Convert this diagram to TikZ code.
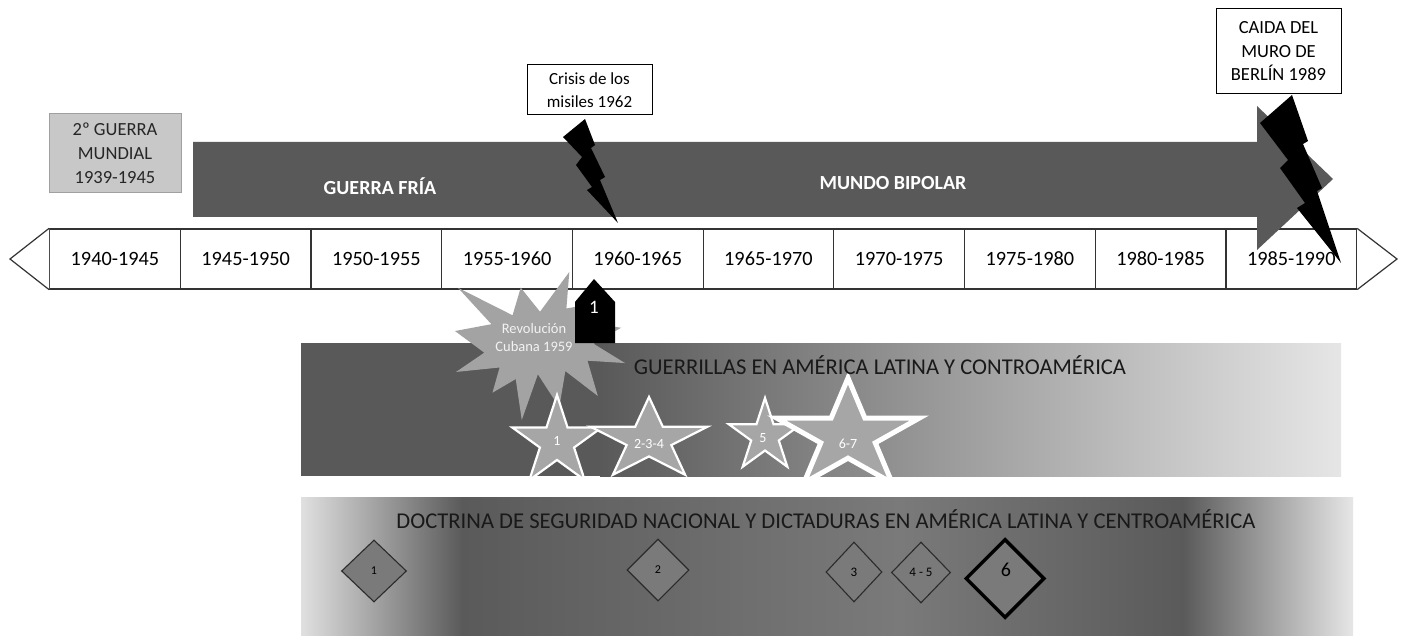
\documentclass[tikz,border=0pt]{standalone}
\usepackage{fontspec}
\setmainfont{Carlito}
\usetikzlibrary{shapes.geometric}
\definecolor{darkband}{HTML}{595959}
\definecolor{tlline}{HTML}{333333}
\definecolor{wwfill}{HTML}{C8C8C8}
\definecolor{wwline}{HTML}{A0A0A0}
\definecolor{burstfill}{HTML}{A3A3A3}
\definecolor{starfill}{HTML}{A6A6A6}
\definecolor{diafill}{HTML}{7A7A7A}
\definecolor{diadraw}{HTML}{2B2B2B}
\definecolor{lightend}{HTML}{E6E6E6}
\definecolor{lightstart}{HTML}{E0E0E0}
\definecolor{midgray}{HTML}{7A7A7A}
\definecolor{darkgray2}{HTML}{5A5A5A}
\newcommand\fstar[5]{%
  \pgfmathsetmacro\irx{0.382*#3}%
  \pgfmathsetmacro\iry{0.382*#4}%
  \draw[starshape, line width=#5, shift={(#1,#2)}]
   (270:#3 and #4) -- (306:\irx\space and \iry) -- (342:#3 and #4) -- (18:\irx\space and \iry)
   -- (54:#3 and #4) -- (90:\irx\space and \iry) -- (126:#3 and #4) -- (162:\irx\space and \iry)
   -- (198:#3 and #4) -- (234:\irx\space and \iry) -- cycle;}
\begin{document}
\begin{tikzpicture}[x=1pt,y=-1pt,
  cellbox/.style={draw=tlline, line width=1.2pt, minimum width=130.7pt, minimum height=60pt, inner sep=0pt, anchor=west},
  celltext/.style={font=\fontsize{20.3}{24}\selectfont, text=black},
  tri/.style={draw=tlline, fill=white, line width=1.2pt, line join=miter},
  callout/.style={draw=black, fill=white, line width=1pt, align=center, inner sep=0pt},
  bandlabel/.style={font=\fontsize{20}{24}\selectfont\bfseries, text=white},
  bandtitle/.style={font=\fontsize{22.6}{26}\selectfont, text=black!90},
  starshape/.style={draw=white, fill=starfill, line join=miter},
  startext/.style={font=\fontsize{14}{16}\selectfont, text=white},
  dia/.style={diamond, draw=diadraw, fill=diafill, line width=1.1pt, inner sep=0pt},
  diatext/.style={font=\fontsize{13}{15}\selectfont, text=black}]
\useasboundingbox (0,0) rectangle (1403,636);
\fill[white] (0,0) rectangle (1403,636);

% WWII box
\node[draw=wwline, fill=wwfill, line width=1pt, minimum width=132pt, minimum height=79pt, inner sep=0pt,
  align=center, font=\fontsize{18.5}{24}\selectfont, text=black!85] (ww2) at (115,153.5) {2º GUERRA\\MUNDIAL\\1939-1945};

% timeline cells
\foreach \i in {0,...,9} {
  \node[cellbox] (c\i) at ({49+130.7*\i},259) {};
}
\coordinate (ltip) at (10,259);
\coordinate (rtip) at (1397,259);
\filldraw[tri] (c0.north west) -- (ltip) -- (c0.south west);
\filldraw[tri] (c9.north east) -- (rtip) -- (c9.south east);

% big arrow
\fill[darkband] (193,142) -- (1257,142) -- (1257,106) -- (1333,179) -- (1257,250) -- (1257,217) -- (193,217) -- cycle;
\node[bandlabel] (gf) at (380,186) {GUERRA FRÍA};
\node[bandlabel] (mb) at (893,183) {MUNDO BIPOLAR};

% cell labels
\foreach \lab [count=\i from 0] in {1940-1945,1945-1950,1950-1955,1955-1960,1960-1965,1965-1970,1970-1975,1975-1980,1980-1985,1985-1990} {
  \node[celltext] (l\i) at (c\i) {\lab};
}

% callout boxes
\node[callout, minimum width=125pt, minimum height=50pt, font=\fontsize{17}{23}\selectfont] (crisis) at (589.5,90) {Crisis de los\\misiles 1962};
\node[callout, minimum width=125pt, minimum height=85pt, font=\fontsize{18.5}{23.5}\selectfont] (berlin) at (1278.5,51.5) {CAIDA DEL\\MURO DE\\BERLÍN 1989};

% lightning bolts
\fill[black] (585,119) -- (563,137) -- (582,157) -- (576,165) -- (592,187) -- (587,190) -- (618,223)
  -- (600,180) -- (605,177) -- (591,148) -- (595,145) -- cycle;
\fill[black] (1292,95) -- (1260,123) -- (1288,160) -- (1280,168) -- (1305,203) -- (1297,208) -- (1341,263)
  -- (1317,191) -- (1322,188) -- (1303,144) -- (1308,141) -- cycle;

% guerrillas band
\fill[darkband] (301,343) rectangle (601,476);
\shade[left color=darkband, right color=lightend] (600,343) rectangle (1341,476);

% doctrina band
\shade[left color=lightstart, right color=darkgray2] (301,497) rectangle (462.5,636);
\shade[left color=darkgray2, right color=midgray] (462,497) rectangle (900.5,636);
\shade[left color=midgray, right color=darkgray2] (900,497) rectangle (1183.5,636);
\shade[left color=darkgray2, right color=lightend] (1183,497) rectangle (1353,636);

% starburst
\begin{scope}[shift={(455,272)}, xscale=170/216, yscale=148/216]
\fill[burstfill] (108,58) -- (145.22,0) -- (141.55,53.25) -- (183.80,44.57) -- (167.02,73.15) -- (210.97,81.37) -- (176.07,104.75) -- (216,132.90) -- (168.37,129.42) -- (181.45,180.95) -- (140.20,144.57) -- (132.47,197.37) -- (105.32,149.35) -- (84.85,216) -- (77.15,156.27) -- (47.62,176.17) -- (56.67,139.37) -- (1.35,145.87) -- (37.22,117.75) -- (0,86.15) -- (46.27,76.17) -- (3.70,22.95) -- (73.12,63.20) -- (83.52,22.95) -- cycle;
\end{scope}
\node[align=center, font=\fontsize{14.5}{18}\selectfont, text=white!95!black] (rev) at (534,338) {Revolución\\Cubana 1959};

% pentagon marker
\fill[black] (575,343) -- (575,302) -- (594,279) -- (615,302) -- (615,343) -- cycle;
\node[font=\fontsize{19}{22}\selectfont, text=white] (p1) at (594,307) {1};

% stars
\fstar{557}{442}{47}{47}{2.2pt}
\node[startext] (s1) at (557,441) {1};
\fstar{649}{440}{61.5}{43}{2.2pt}
\node[startext] (s2) at (649,444) {2-3-4};
\fstar{765}{436}{38}{38}{2.2pt}
\node[startext] (s5) at (763,438) {5};
\fstar{848}{436}{75}{58}{5pt}
\node[startext] (s6) at (848,444) {6-7};

% band titles
\node[bandtitle] (gtitle) at (880,365) {GUERRILLAS EN AMÉRICA LATINA Y CONTROAMÉRICA};
\node[bandtitle] (dtitle) at (826,519) {DOCTRINA DE SEGURIDAD NACIONAL Y DICTADURAS EN AMÉRICA LATINA Y CENTROAMÉRICA};

% diamonds
\node[dia, minimum width=65pt, minimum height=62pt, diatext, font=\fontsize{12}{14}\selectfont] (d1) at (374,571) {1};
\node[dia, minimum width=62pt, minimum height=62pt, diatext, font=\fontsize{12}{14}\selectfont] (d2) at (658,570) {2};
\node[dia, minimum width=56pt, minimum height=60pt, diatext] (d3) at (854,572) {3};
\node[dia, minimum width=59pt, minimum height=61pt, diatext] (d45) at (921,572.5) {4 - 5};
\node[dia, draw=black, line width=3.5pt, minimum width=79pt, minimum height=79pt] (d6) at (1005,578.5) {};
\node[font=\fontsize{20}{22}\selectfont, text=black] (d6l) at (1006,570) {6};
\end{tikzpicture}
\end{document}
